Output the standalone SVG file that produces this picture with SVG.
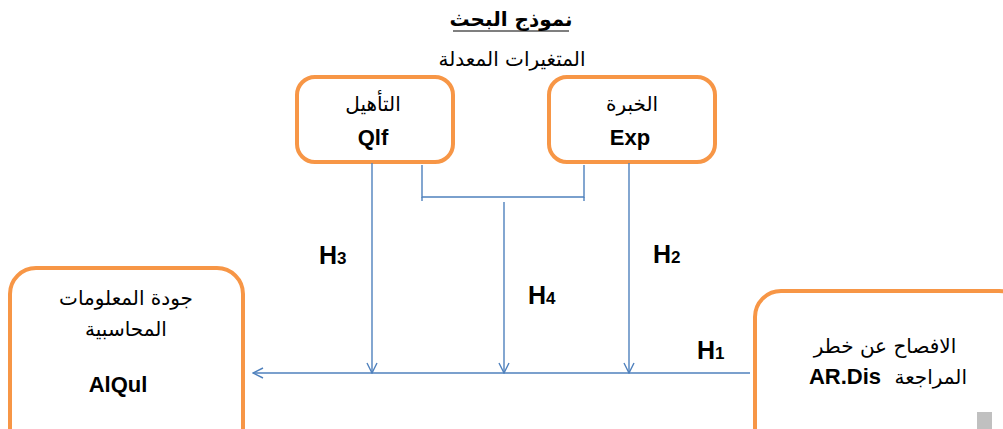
<svg xmlns="http://www.w3.org/2000/svg" width="1003" height="429" viewBox="0 0 1003 429">
<defs>
<style>
.box{fill:#fff;stroke:#F79646;stroke-width:4}
.ln{stroke:#4F81BD;stroke-width:1.4;fill:none}
.ar{font-family:"DejaVu Sans",sans-serif;font-size:20px;fill:#000;text-anchor:middle}
.lat{font-family:"Liberation Sans",Arial,sans-serif;font-weight:bold;font-size:22px;fill:#000;text-anchor:middle}
.h{font-family:"Liberation Sans",Arial,sans-serif;font-weight:bold;font-size:25px;fill:#000}
.sub{font-size:17px}
</style>
<marker id="arr" viewBox="0 0 12 12" refX="11" refY="6" markerWidth="12" markerHeight="12" markerUnits="userSpaceOnUse" orient="auto">
<path d="M1,1 L11,6 L1,11" fill="none" stroke="#4F81BD" stroke-width="1.4"/>
</marker>
</defs>
<rect width="1003" height="429" fill="#fff"/>
<text x="511" y="26" class="ar" font-weight="bold" direction="rtl">نموذج البحث</text>
<line x1="453" y1="31" x2="569" y2="31" stroke="#000" stroke-width="1.2"/>
<text x="512" y="66" class="ar" direction="rtl">المتغيرات المعدلة</text>
<g id="qlf">
<rect class="box" x="297" y="77" width="156" height="85" rx="18"/>
<text x="373" y="111" class="ar" direction="rtl">التأهيل</text>
<text x="373" y="145" class="lat">Qlf</text>
</g>
<g id="exp">
<rect class="box" x="549" y="77" width="166" height="85" rx="18"/>
<text x="632" y="111" class="ar" direction="rtl">الخبرة</text>
<text x="630" y="145" class="lat">Exp</text>
</g>
<g id="alqul">
<rect class="box" x="10" y="268" width="233" height="190" rx="26"/>
<text x="126" y="305" class="ar" direction="rtl">جودة المعلومات</text>
<text x="126" y="336" class="ar" direction="rtl">المحاسبية</text>
<text x="118" y="392" class="lat">AlQul</text>
</g>
<g id="ardis">
<rect class="box" x="755" y="291" width="270" height="170" rx="26"/>
<text x="885" y="353" class="ar" direction="rtl">الافصاح عن خطر</text>
<text x="967" y="384" class="ar" text-anchor="end" style="text-anchor:start" direction="rtl">المراجعة</text>
<text x="845" y="384" class="lat">AR.Dis</text>
<rect x="977" y="412" width="15" height="17" fill="#c0c0c0"/>
</g>
<g id="connectors">
<line class="ln" x1="750" y1="373" x2="253" y2="373" marker-end="url(#arr)"/>
<line class="ln" x1="372" y1="163" x2="372" y2="373" marker-end="url(#arr)"/>
<line class="ln" x1="629" y1="163" x2="629" y2="373" marker-end="url(#arr)"/>
<line class="ln" x1="504" y1="202" x2="504" y2="373" marker-end="url(#arr)"/>
<polyline class="ln" points="422,165 422,197 584,197 584,165"/>
<line class="ln" x1="422" y1="197" x2="422" y2="201"/>
<line class="ln" x1="584" y1="197" x2="584" y2="201"/>
</g>
<g id="labels">
<text x="319" y="264" class="h">H<tspan class="sub">3</tspan></text>
<text x="528" y="304" class="h">H<tspan class="sub">4</tspan></text>
<text x="653" y="263" class="h">H<tspan class="sub">2</tspan></text>
<text x="697" y="359" class="h">H<tspan class="sub">1</tspan></text>
</g>
</svg>
